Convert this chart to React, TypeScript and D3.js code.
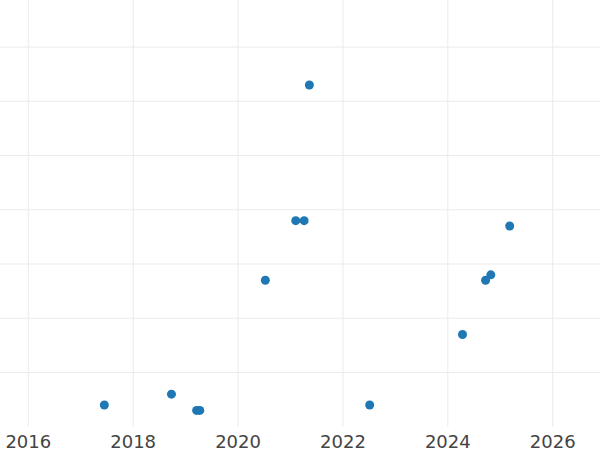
import React from "react";
import * as d3 from "d3";

const years = [2017.45, 2018.73, 2019.21, 2019.27, 2020.52, 2021.36, 2021.1, 2021.26, 2022.51, 2024.28, 2024.72, 2024.82, 2025.18];
const values = [0.4, 0.6, 0.3, 0.3, 2.7, 6.3, 3.8, 3.8, 0.4, 1.7, 2.7, 2.8, 3.7];
const xTicks = [2016, 2018, 2020, 2022, 2024, 2026];
const yGrid = [1, 2, 3, 4, 5, 6, 7];

export default function App() {
  const W = 600, H = 450;
  const x = d3.scaleLinear().domain([2016, 2026]).range([28.3, 552.7]);
  const y = d3.scaleLinear().domain([0, 6]).range([426.7, 426.7 - 6 * 54.23]);
  const plotBottom = y(0);
  return (
    <svg width={W} height={H} style={{ position: "fixed", left: 0, top: 0, background: "#fff" }}>
      <rect x={0} y={0} width={W} height={H} fill="#fff" />
      {yGrid.map((v) => (
        <line key={"h" + v} x1={0} x2={W} y1={y(v)} y2={y(v)} stroke="#ebebeb" strokeWidth={1} />
      ))}
      {xTicks.map((t) => (
        <line key={"v" + t} x1={x(t)} x2={x(t)} y1={0} y2={plotBottom} stroke="#ebebeb" strokeWidth={1} />
      ))}
      {xTicks.map((t) => (
        <text key={"t" + t} x={x(t)} y={447.5} textAnchor="middle" fontFamily="DejaVu Sans" fontSize={18} fill="#444">
          {t}
        </text>
      ))}
      {years.map((yr, i) => (
        <circle key={"p" + i} cx={x(yr)} cy={y(values[i])} r={4.5} fill="#1f77b4" />
      ))}
    </svg>
  );
}
